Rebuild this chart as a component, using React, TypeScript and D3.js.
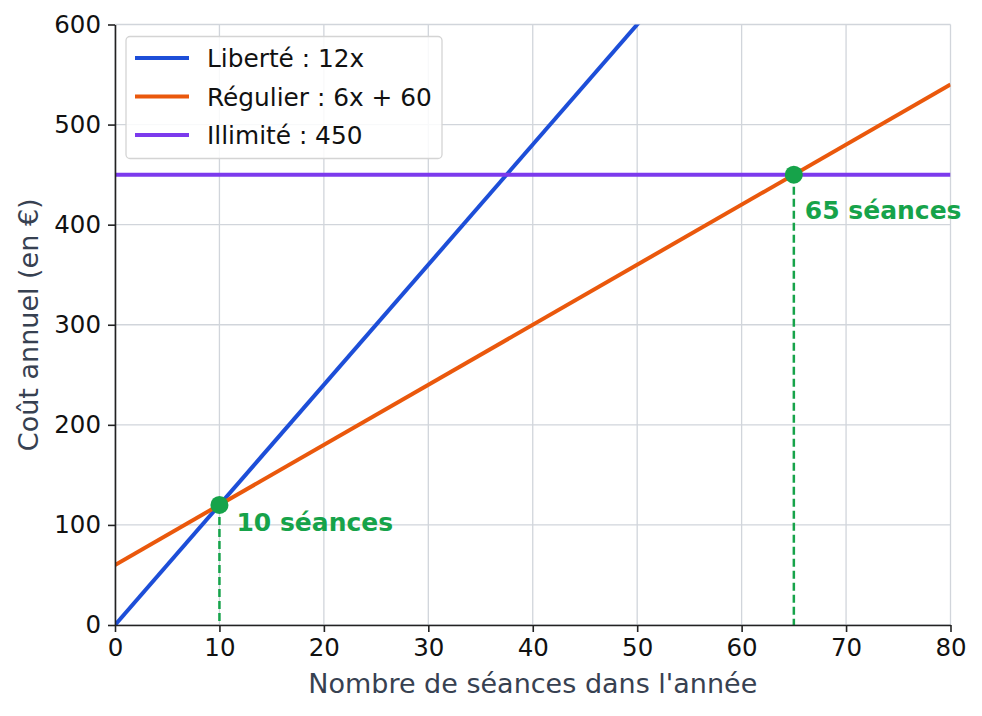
import React, { useEffect, useRef } from "react";
import * as d3 from "d3";

const xDomain = [0, 80];
const yDomain = [0, 600];
const xTicks = [0, 10, 20, 30, 40, 50, 60, 70, 80];
const yTicks = [0, 100, 200, 300, 400, 500, 600];

const seriesNames = ["Liberté : 12x", "Régulier : 6x + 60", "Illimité : 450"];
const seriesColors = ["#1d4ed8", "#ea580c", "#7c3aed"];
const seriesSlopes = [12, 6, 0];
const seriesIntercepts = [0, 60, 450];

const crossX = [10, 65];
const crossY = [120, 450];
const crossLabels = ["10 séances", "65 séances"];

const W = 982;
const H = 716;
const margin = { left: 115, right: 31.5, top: 24.5, bottom: 91 };

export default function App() {
  const ref = useRef<SVGSVGElement>(null);

  useEffect(() => {
    const svg = d3.select(ref.current);
    svg.selectAll("*").remove();
    const width = W - margin.left - margin.right;
    const height = H - margin.top - margin.bottom;
    const x = d3.scaleLinear().domain(xDomain).range([0, width]);
    const y = d3.scaleLinear().domain(yDomain).range([height, 0]);
    const font = "DejaVu Sans, sans-serif";

    svg
      .append("defs")
      .append("clipPath")
      .attr("id", "plot-clip")
      .append("rect")
      .attr("width", width)
      .attr("height", height);

    const g = svg
      .append("g")
      .attr("transform", `translate(${margin.left},${margin.top})`);

    // grid
    g.append("g")
      .selectAll("line")
      .data(xTicks)
      .join("line")
      .attr("x1", (d) => x(d))
      .attr("x2", (d) => x(d))
      .attr("y1", 0)
      .attr("y2", height)
      .attr("stroke", "#d1d5db")
      .attr("stroke-width", 1.3);
    g.append("g")
      .selectAll("line")
      .data(yTicks)
      .join("line")
      .attr("x1", 0)
      .attr("x2", width)
      .attr("y1", (d) => y(d))
      .attr("y2", (d) => y(d))
      .attr("stroke", "#d1d5db")
      .attr("stroke-width", 1.3);

    // the three offers
    const lines = g.append("g").attr("clip-path", "url(#plot-clip)");
    const path = d3
      .line<[number, number]>()
      .x((d) => x(d[0]))
      .y((d) => y(d[1]));
    seriesNames.forEach((_, i) => {
      const pts = xDomain.map(
        (v) => [v, seriesSlopes[i] * v + seriesIntercepts[i]] as [number, number]
      );
      lines
        .append("path")
        .attr("d", path(pts))
        .attr("fill", "none")
        .attr("stroke", seriesColors[i])
        .attr("stroke-width", 4);
    });

    // break-even markers
    const labelOffsets = [
      [17, 26],
      [11, 44],
    ];
    crossX.forEach((cx, i) => {
      g.append("line")
        .attr("x1", x(cx))
        .attr("x2", x(cx))
        .attr("y1", y(crossY[i]))
        .attr("y2", height)
        .attr("stroke", "#16a34a")
        .attr("stroke-width", 2.5)
        .attr("stroke-dasharray", "8,4");
      g.append("circle")
        .attr("cx", x(cx))
        .attr("cy", y(crossY[i]))
        .attr("r", 9)
        .attr("fill", "#16a34a");
      g.append("text")
        .attr("x", x(cx) + labelOffsets[i][0])
        .attr("y", y(crossY[i]) + labelOffsets[i][1])
        .attr("fill", "#16a34a")
        .attr("font-family", font)
        .attr("font-weight", "bold")
        .attr("font-size", 25)
        .text(crossLabels[i]);
    });

    // axes
    const xAxis = g
      .append("g")
      .attr("transform", `translate(0,${height})`)
      .call(d3.axisBottom(x).tickValues(xTicks).tickSize(7).tickPadding(7).tickSizeOuter(0));
    const yAxis = g
      .append("g")
      .call(d3.axisLeft(y).tickValues(yTicks).tickSize(7).tickPadding(7).tickSizeOuter(0));
    [xAxis, yAxis].forEach((a) => {
      a.selectAll("path").attr("stroke", "#222").attr("stroke-width", 1.6);
      a.selectAll("line").attr("stroke", "#222").attr("stroke-width", 1.6);
      a.selectAll("text")
        .attr("font-family", font)
        .attr("font-size", 24.5)
        .attr("fill", "#111");
    });

    // axis titles
    g.append("text")
      .attr("x", width / 2)
      .attr("y", height + 68)
      .attr("text-anchor", "middle")
      .attr("font-family", font)
      .attr("font-size", 27)
      .attr("fill", "#374151")
      .text("Nombre de séances dans l'année");
    g.append("text")
      .attr("transform", "rotate(-90)")
      .attr("x", -height / 2)
      .attr("y", -77.5)
      .attr("text-anchor", "middle")
      .attr("font-family", font)
      .attr("font-size", 27)
      .attr("fill", "#374151")
      .text("Coût annuel (en €)");

    // legend
    const lg = g.append("g").attr("transform", "translate(11,12)");
    lg.append("rect")
      .attr("width", 316)
      .attr("height", 122)
      .attr("rx", 4)
      .attr("fill", "white")
      .attr("fill-opacity", 0.85)
      .attr("stroke", "#d4d4d4")
      .attr("stroke-width", 1.3);
    seriesNames.forEach((name, i) => {
      const cy = 21.5 + i * 38.5;
      lg.append("line")
        .attr("x1", 9)
        .attr("x2", 63)
        .attr("y1", cy)
        .attr("y2", cy)
        .attr("stroke", seriesColors[i])
        .attr("stroke-width", 4);
      lg.append("text")
        .attr("x", 81)
        .attr("y", cy + 9)
        .attr("font-family", font)
        .attr("font-size", 24.8)
        .attr("fill", "#111")
        .text(name);
    });
  }, []);

  return <svg ref={ref} width={W} height={H} style={{ display: "block", margin: -8 }} />;
}
